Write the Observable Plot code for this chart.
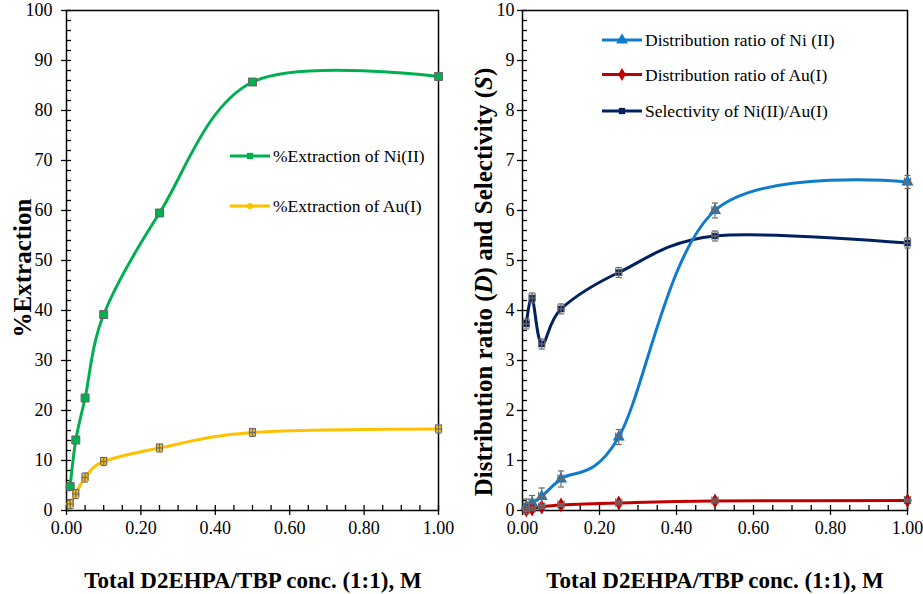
<!DOCTYPE html>
<html><head><meta charset="utf-8">
<script src="https://cdn.jsdelivr.net/npm/d3@7"></script>
<script src="https://cdn.jsdelivr.net/npm/@observablehq/plot@0.6"></script>
<style>
body{margin:0;background:#fff;}
#wrap{position:relative;width:923px;height:594px;background:#fff;}
#wrap svg{position:absolute;top:0;overflow:visible;font-family:"Liberation Serif","Times New Roman",serif !important;}
#wrap svg text{font-family:"Liberation Serif","Times New Roman",serif !important;}
</style></head><body><div id="wrap"></div>
<script>
// ---- data ----
const conc = [0.01, 0.025, 0.05, 0.1, 0.25, 0.5, 1.0];
const concErr = [0.008, 0.008, 0.008, 0.008, 0.008, 0.008, 0.008];
const extNi = [4.8, 14.1, 22.5, 39.2, 59.5, 85.7, 86.8];
const extNiErr = [0.6, 0.6, 0.6, 0.6, 0.6, 0.6, 0.6];
const extAu = [1.3, 3.3, 6.6, 9.8, 12.5, 15.6, 16.3];
const extAuErr = [0.9, 0.9, 0.9, 0.8, 0.8, 0.8, 0.8];
const dNi = [0.08, 0.15, 0.28, 0.63, 1.47, 6.0, 6.57];
const dNiErr = [0.15, 0.15, 0.17, 0.16, 0.15, 0.15, 0.13];
const dAu = [0.01, 0.03, 0.07, 0.11, 0.15, 0.19, 0.20];
const dAuErr = [0.03, 0.03, 0.03, 0.03, 0.04, 0.04, 0.03];
const sel = [3.73, 4.25, 3.33, 4.03, 4.76, 5.49, 5.35];
const selErr = [0.1, 0.1, 0.1, 0.1, 0.1, 0.1, 0.1];

const leftTicksY = [0,10,20,30,40,50,60,70,80,90,100];
const rightTicksY = [0,1,2,3,4,5,6,7,8,9,10];
const ticksX = [0, 0.2, 0.4, 0.6, 0.8, 1.0];

const leftLegend = ["%Extraction of Ni(II)", "%Extraction of Au(I)"];
const rightLegend = ["Distribution ratio of Ni (II)", "Distribution ratio of Au(I)", "Selectivity of Ni(II)/Au(I)"];
const xTitle = "Total D2EHPA/TBP conc. (1:1), M";
const leftYTitle = "%Extraction";

const C = {green:"#00B050", gold:"#FFC000", blue:"#0F7BCB", red:"#C00000", navy:"#002060", err:"#6b6b6b"};
const FONT = '"Liberation Serif","Times New Roman",serif';

const rows = conc.map((c,i)=>({c, ce: concErr[i], extNi: extNi[i], extNiErr: extNiErr[i], extAu: extAu[i], extAuErr: extAuErr[i],
  dNi: dNi[i], dNiErr: dNiErr[i], dAu: dAu[i], dAuErr: dAuErr[i], sel: sel[i], selErr: selErr[i]}));

function errMarks(key, ekey, capX, capY) {
  return [
    Plot.ruleX(rows, {x:"c", y1:d=>d[key]-d[ekey], y2:d=>d[key]+d[ekey], stroke:C.err, strokeWidth:1.2}),
    Plot.link(rows, {x1:d=>d.c-capX, x2:d=>d.c+capX, y1:d=>d[key]-d[ekey], y2:d=>d[key]-d[ekey], stroke:C.err, strokeWidth:1.2}),
    Plot.link(rows, {x1:d=>d.c-capX, x2:d=>d.c+capX, y1:d=>d[key]+d[ekey], y2:d=>d[key]+d[ekey], stroke:C.err, strokeWidth:1.2}),
    Plot.ruleY(rows, {y:key, x1:d=>d.c-d.ce, x2:d=>d.c+d.ce, stroke:C.err, strokeWidth:1.2}),
    Plot.ruleX(rows, {x:d=>d.c-d.ce, y1:d=>d[key]-capY, y2:d=>d[key]+capY, stroke:C.err, strokeWidth:1.2}),
    Plot.ruleX(rows, {x:d=>d.c+d.ce, y1:d=>d[key]-capY, y2:d=>d[key]+capY, stroke:C.err, strokeWidth:1.2})
  ];
}

function axes(yTicks, yMinor, xMinor, yPad) {
  return [
    Plot.axisY(yMinor, {anchor:"left", tickSize:5, dx:5, tickFormat:()=>"", label:null, strokeWidth:1.3}),
    Plot.axisY(yTicks, {anchor:"left", tickSize:10, dx:5, tickFormat:()=>"", label:null, strokeWidth:1.3}),
    Plot.axisY(yTicks, {anchor:"left", tickSize:0, tickPadding:yPad, label:null, fontSize:18, tickFormat:d3.format("d")}),
    Plot.axisX(xMinor, {anchor:"bottom", tickSize:5, dy:-5, tickFormat:()=>"", label:null, strokeWidth:1.3}),
    Plot.axisX(ticksX, {anchor:"bottom", tickSize:10, dy:-5, tickFormat:()=>"", label:null, strokeWidth:1.3}),
    Plot.axisX(ticksX, {anchor:"bottom", tickSize:0, tickPadding:11, label:null, fontSize:18, tickFormat:d3.format(".2f")}),
    Plot.frame({stroke:"#000", strokeWidth:1.5})
  ];
}

const xMinor = d3.range(0, 1.0001, 0.05).filter(v => Math.abs(v*5 - Math.round(v*5)) > 1e-6);

const left = Plot.plot({
  width:461, height:594, marginLeft:66, marginRight:23, marginTop:10, marginBottom:84,
  style:{fontFamily:FONT, fontSize:"18px", color:"#000", background:"transparent", overflow:"visible"},
  x:{domain:[0,1], axis:null}, y:{domain:[0,100], axis:null},
  marks:[
    ...axes(leftTicksY, d3.range(0,101,2).filter(v=>v%10!==0), xMinor, 14),
    Plot.line(rows, {x:"c", y:"extNi", stroke:C.green, strokeWidth:3, curve:"cardinal"}),
    Plot.line(rows, {x:"c", y:"extAu", stroke:C.gold, strokeWidth:3, curve:"cardinal"}),
    Plot.dot(rows, {x:"c", y:"extNi", symbol:"square", r:4.5, fill:C.green, stroke:"#666", strokeWidth:1}),
    Plot.dot(rows, {x:"c", y:"extAu", symbol:"circle", r:3, fill:C.gold, stroke:C.gold}),
    ...errMarks("extAu", "extAuErr", 0.008, 0.8)
  ]
});

const right = Plot.plot({
  width:462, height:594, marginLeft:61, marginRight:16, marginTop:10, marginBottom:84,
  style:{fontFamily:FONT, fontSize:"18px", color:"#000", background:"transparent", overflow:"visible"},
  x:{domain:[0,1], axis:null}, y:{domain:[0,10], axis:null},
  marks:[
    ...axes(rightTicksY, d3.range(0,10.001,0.2).filter(v=>Math.abs(v-Math.round(v))>1e-6), xMinor, 8),
    Plot.line(rows, {x:"c", y:"sel", stroke:C.navy, strokeWidth:3, curve:"cardinal"}),
    Plot.line(rows, {x:"c", y:"dNi", stroke:C.blue, strokeWidth:3, curve:"cardinal"}),
    Plot.line(rows, {x:"c", y:"dAu", stroke:C.red, strokeWidth:3, curve:"cardinal"}),
    Plot.dot(rows, {x:"c", y:"sel", symbol:"square", r:3.6, fill:C.navy}),
    Plot.dot(rows, {x:"c", y:"dNi", symbol:"triangle", r:4.5, fill:C.blue}),
    Plot.dot(rows, {x:"c", y:"dAu", symbol:"diamond", r:4.5, fill:C.red}),
    ...errMarks("sel", "selErr", 0.008, 0.08),
    ...errMarks("dNi", "dNiErr", 0.008, 0.08),
    ...errMarks("dAu", "dAuErr", 0.008, 0.08)
  ]
});

const wrap = document.getElementById("wrap");
left.style.left = "0px"; right.style.left = "461px";
wrap.appendChild(left); wrap.appendChild(right);

function legend(svg, items, x0, ys, colors, symbols, sizes) {
  const g = d3.select(svg).append("g").attr("font-family", FONT).attr("font-size", 17.5).attr("text-anchor", "start");
  items.forEach((t,i)=>{
    g.append("line").attr("x1", x0).attr("x2", x0+40).attr("y1", ys[i]).attr("y2", ys[i]).attr("stroke", colors[i]).attr("stroke-width", 3);
    g.append("path").attr("d", d3.symbol(symbols[i], sizes[i])()).attr("transform", `translate(${x0+20},${ys[i]})`).attr("fill", colors[i]);
    g.append("text").attr("x", x0+43).attr("y", ys[i]).attr("dy", "0.35em").attr("text-anchor", "start").attr("fill", "#000").text(t);
  });
}
legend(left, leftLegend, 230, [156, 206], [C.green, C.gold], [d3.symbolSquare, d3.symbolCircle], [40, 30]);
legend(right, rightLegend, 141, [40, 74.5, 111], [C.blue, C.red, C.navy], [d3.symbolTriangle, d3.symbolDiamond, d3.symbolSquare], [60, 50, 40]);

// axis titles
d3.select(left).append("text").attr("transform","translate(22,268) rotate(-90)").attr("text-anchor","middle").attr("dy","0.35em")
  .attr("font-family",FONT).attr("font-size",25).attr("font-weight","bold").attr("fill","#000").text(leftYTitle);
d3.select(left).append("text").attr("x",253).attr("y",580).attr("text-anchor","middle").attr("dy","0.35em")
  .attr("font-family",FONT).attr("font-size",23).attr("font-weight","bold").attr("fill","#000").text(xTitle);
d3.select(right).append("text").attr("x",254).attr("y",580).attr("text-anchor","middle").attr("dy","0.35em")
  .attr("font-family",FONT).attr("font-size",23).attr("font-weight","bold").attr("fill","#000").text(xTitle);
const ry = d3.select(right).append("text").attr("transform","translate(22,282) rotate(-90)").attr("text-anchor","middle").attr("dy","0.35em")
  .attr("font-family",FONT).attr("font-size",25).attr("font-weight","bold").attr("fill","#000");
ry.append("tspan").text("Distribution ratio (");
ry.append("tspan").attr("font-style","italic").text("D");
ry.append("tspan").text(") and Selectivity (");
ry.append("tspan").attr("font-style","italic").text("S");
ry.append("tspan").text(")");
</script></body></html>
